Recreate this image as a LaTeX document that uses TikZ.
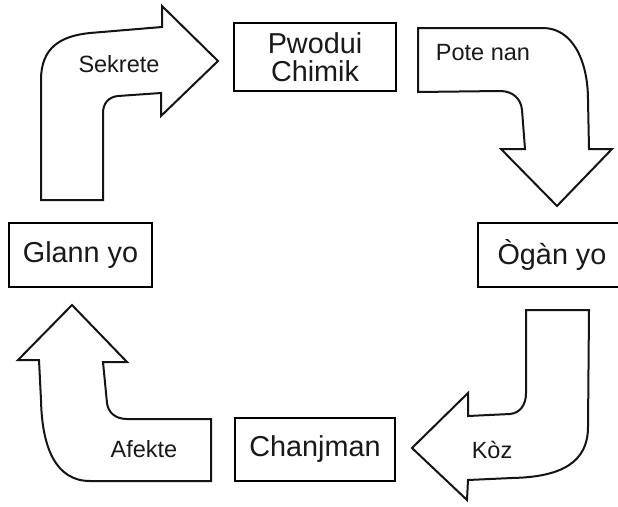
\documentclass[tikz,border=0pt]{standalone}
\usepackage{fontspec}
\setmainfont{Liberation Sans}
\begin{document}
\begin{tikzpicture}[x=1pt,y=-1pt,
  box/.style={draw=black, line width=2.1pt, inner sep=0pt, text=black!90, align=center,
    font=\fontsize{28.8}{28.3}\selectfont},
  blockarrow/.style={draw=black!92, line width=2pt, line join=miter, fill=white},
  lab/.style={inner sep=0pt, text=black!90, font=\fontsize{23.5}{26}\selectfont}]
\useasboundingbox (0,0) rectangle (618,506);
\fill[white] (0,0) rectangle (618,506);

% boxes
\node[box, minimum width=162, minimum height=68] (chem) at (315,57) {Pwodui\\Chimik};
\node[box, minimum width=143, minimum height=64] (gland) at (80.5,255) {Glann yo};
\node[box, minimum width=148, minimum height=64] (organ) at (552,255) {Ògàn yo};
\node[box, minimum width=160, minimum height=63] (change) at (315,449.5) {Chanjman};

% arrow 1: Sekrete (gland -> chemical)
\draw[blockarrow] (41,200) -- (41,80) .. controls (41,48) and (60,36) .. (90,33) -- (162,27) -- (162,6)
  -- (218,61) -- (161,116) -- (161,93) -- (118,96) .. controls (108,97) and (103,104) .. (103,113)
  -- (103,200) -- cycle;
\node[lab] (sekrete) at (119,64) {Sekrete};

% arrow 2: Pote nan (chemical -> organ)
\draw[blockarrow] (418,28) -- (543,28) .. controls (572,28) and (588,60) .. (588,100) -- (589,149)
  -- (612,149) -- (557,206) -- (501,149) -- (525,149) -- (522,110)
  .. controls (521,99) and (513,91) .. (500,91) -- (418,92) -- cycle;
\node[lab] (potenan) at (483,53) {Pote nan};

% arrow 3: Koz (organ -> change)
\draw[blockarrow] (526,310) -- (589,310) -- (588,427) .. controls (588,462) and (562,477) .. (512,478)
  -- (468,480) -- (467,500) -- (412,448) -- (468,393) -- (468,416) -- (510,414)
  .. controls (520,413) and (526,405) .. (526,393) -- cycle;
\node[lab] (koz) at (492,450) {Kòz};

% arrow 4: Afekte (change -> gland)
\draw[blockarrow] (211,419) -- (211,481) -- (90,481) .. controls (56,481) and (42,448) .. (41,400)
  -- (39,360) -- (18,360) -- (72,305) -- (127,362) -- (103,362) -- (107,403)
  .. controls (108,412) and (115,419) .. (127,419) -- cycle;
\node[lab] (afekte) at (144,449) {Afekte};
\end{tikzpicture}
\end{document}
